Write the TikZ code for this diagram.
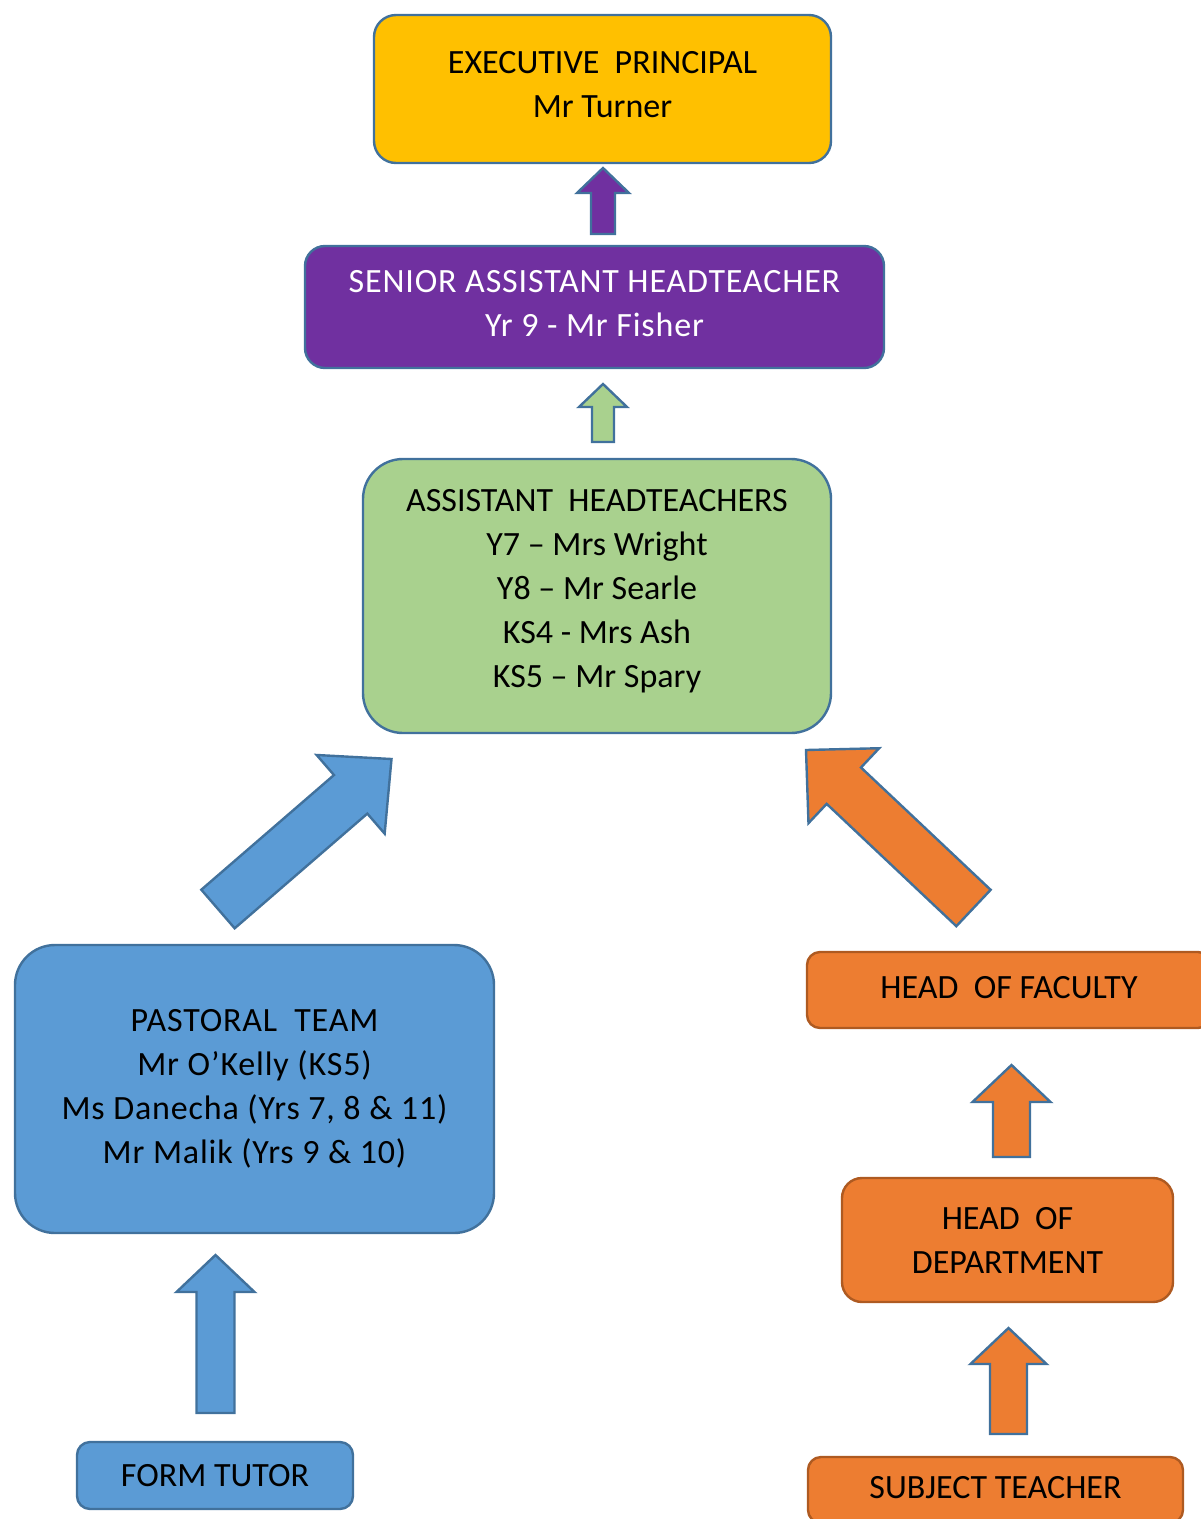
\documentclass[tikz,border=0pt]{standalone}
\usepackage{fontspec}
\setmainfont{Carlito}
\usetikzlibrary{calc}

\definecolor{edgeblue}{HTML}{41719C}
\definecolor{gold}{HTML}{FFC000}
\definecolor{plum}{HTML}{7030A0}
\definecolor{sage}{HTML}{A9D18E}
\definecolor{sky}{HTML}{5B9BD5}
\definecolor{tango}{HTML}{ED7D31}
\definecolor{rust}{HTML}{AE5A21}

\begin{document}
\begin{tikzpicture}[x=1pt, y=-1pt,
    rolebox/.style={draw=edgeblue, line width=2.4pt, align=center,
                    inner sep=0pt, text depth=0pt,
                    font=\fontsize{34}{44}\selectfont},
    widebox/.style={rolebox,
                    font=\fontsize{34}{44}\selectfont\addfontfeature{LetterSpace=2.5}},
    deptbox/.style={rolebox, draw=rust, fill=tango},
    uparrow/.style={draw=edgeblue, line width=2.4pt, line join=miter}
  ]
    \useasboundingbox (0,0) rectangle (1201,1519);
    \clip (0,0) rectangle (1201,1519);

    % block arrow: style, tail, tip, half shaft, half head, head length
    \def\blockarrow#1#2#3#4#5#6{%
      \coordinate (ab) at ($(#3)!#6!(#2)$);
      \draw[#1] ($(#2)!#4!90:(#3)$) -- ($(ab)!#4!90:(#3)$)
        -- ($(ab)!#5!90:(#3)$) -- (#3) -- ($(ab)!#5!-90:(#3)$)
        -- ($(ab)!#4!-90:(#3)$) -- ($(#2)!#4!-90:(#3)$) -- cycle;}

    \node[rolebox, fill=gold, minimum width=457pt, minimum height=148pt,
          rounded corners=22pt, text depth=9pt]
      (exec) at (602.5,89) {EXECUTIVE\ \ PRINCIPAL\\Mr Turner};
    \node[widebox, fill=plum, text=white, minimum width=579pt,
          minimum height=122pt, rounded corners=20pt, text depth=8pt]
      (sah) at (594.5,307) {SENIOR ASSISTANT HEADTEACHER\\Yr 9 - Mr Fisher};
    \node[rolebox, fill=sage, minimum width=468pt, minimum height=274pt,
          rounded corners=40pt, text depth=15pt]
      (aht) at (597,596)
      {ASSISTANT\ \ HEADTEACHERS\\Y7 -- Mrs Wright\\Y8 -- Mr Searle\\
       KS4 - Mrs Ash\\KS5 -- Mr Spary};
    \node[widebox, fill=sky, minimum width=479pt, minimum height=288pt,
          rounded corners=40pt, text depth=6pt]
      (past) at (254.5,1089)
      {PASTORAL\ \ TEAM\\Mr O’Kelly (KS5)\\Ms Danecha (Yrs 7, 8 \& 11)\\
       Mr Malik (Yrs 9 \& 10)};
    \node[rolebox, fill=sky, minimum width=276pt, minimum height=67pt,
          rounded corners=13pt]
      (tutor) at (215,1475.5) {FORM TUTOR};
    \node[deptbox, minimum width=404pt, minimum height=76pt,
          rounded corners=13pt, text depth=6pt]
      (hof) at (1009,990) {HEAD\ \ OF FACULTY};
    \node[deptbox, minimum width=331pt, minimum height=124pt,
          rounded corners=20pt]
      (hod) at (1007.5,1240) {HEAD\ \ OF\\DEPARTMENT};
    \node[deptbox, minimum width=375pt, minimum height=66pt,
          rounded corners=13pt, text depth=6pt]
      (subj) at (995.5,1490) {SUBJECT TEACHER};

    \coordinate (pTail) at (603,234);    \coordinate (pTip) at (603,168);
    \coordinate (gTail) at (603,442);    \coordinate (gTip) at (603,384);
    \coordinate (bTail) at (218,909);    \coordinate (bTip) at (391.5,759);
    \coordinate (oTail) at (973.5,908);  \coordinate (oTip) at (806,750);
    \coordinate (tTail) at (215.5,1413); \coordinate (tTip) at (215.5,1255);
    \coordinate (fTail) at (1011.5,1157);\coordinate (fTip) at (1011.5,1065);
    \coordinate (dTail) at (1008.5,1434);\coordinate (dTip) at (1008.5,1328);

    \blockarrow{uparrow, fill=plum}{pTail}{pTip}{12pt}{26pt}{25pt}
    \blockarrow{uparrow, fill=sage}{gTail}{gTip}{11pt}{24pt}{23pt}
    \blockarrow{uparrow, fill=sky}{bTail}{bTip}{25.5pt}{52pt}{54pt}
    \blockarrow{uparrow, fill=tango}{oTail}{oTip}{25pt}{51.5pt}{52pt}
    \blockarrow{uparrow, fill=sky}{tTail}{tTip}{19pt}{39pt}{37pt}
    \blockarrow{uparrow, fill=tango}{fTail}{fTip}{18.5pt}{39pt}{37pt}
    \blockarrow{uparrow, fill=tango}{dTail}{dTip}{18.5pt}{38pt}{36pt}
  \end{tikzpicture}
\end{document}
